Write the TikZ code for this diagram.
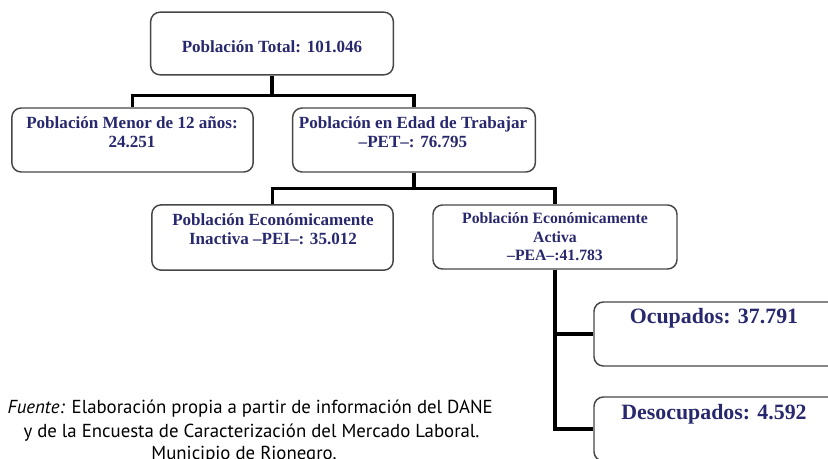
\documentclass[tikz,border=0pt]{standalone}
\usepackage{fontspec}
\setmainfont{Liberation Serif}
\newfontfamily\capfont{PT Sans}
\usepackage{tikz}
\definecolor{navy}{RGB}{40,40,110}
\definecolor{edge}{RGB}{70,70,70}

\begin{document}
\begin{tikzpicture}[x=0.75pt,y=-0.75pt]
\tikzstyle{box}=[draw=edge,line width=1.1pt,rounded corners=7pt,shape=rectangle,inner sep=0pt]
\tikzstyle{txt}=[text=navy,font=\bfseries\fontsize{12.8}{14.3}\selectfont,align=center,inner sep=0pt]
\tikzstyle{srctxt}=[font=\capfont\fontsize{14.1}{17}\selectfont,inner sep=0pt]
\tikzstyle{conn}=[line width=2.6pt,black]
\useasboundingbox (0,0) rectangle (828,458);
\clip (0,0) rectangle (828,458);
% boxes
\node[box,minimum width=182pt,minimum height=47pt] (tot) at (272,43.5) {};
\node[box,minimum width=181pt,minimum height=48pt] (men) at (132.5,140) {};
\node[box,minimum width=182pt,minimum height=48pt] (pet) at (414,140) {};
\node[box,minimum width=181pt,minimum height=49pt] (pei) at (272.5,237.5) {};
\node[box,minimum width=183pt,minimum height=48pt] (pea) at (555,237) {};
\node[box,minimum width=183pt,minimum height=48pt] (ocu) at (716,334) {};
\node[box,minimum width=183pt,minimum height=48pt] (des) at (716,429) {};
% texts
\node[txt] (ttot) at (272,47) {Población Total: 101.046};
\node[txt] (tmen) at (132,132.5) {Población Menor de 12 años:\\24.251};
\node[txt] (tpet) at (413,132.5) {Población en Edad de Trabajar\\--PET--: 76.795};
\node[txt] (tpei) at (273,229) {Población Económicamente\\Inactiva --PEI--: 35.012};
\node[txt,font=\bfseries\fontsize{11.8}{13.9}\selectfont] (tpea) at (555,237) {Población Económicamente\\Activa\\--PEA--:41.783};
\node[txt,font=\bfseries\fontsize{16.4}{18}\selectfont] (tocu) at (714,318) {Ocupados: 37.791};
\node[txt,font=\bfseries\fontsize{16.4}{18}\selectfont] (tdes) at (714,414) {Desocupados: 4.592};
% connectors
\draw[conn] (tot.south) -- ++(0,20) -| (men.north);
\draw[conn] (tot.south) -- ++(0,20) -| (pet.north);
\draw[conn] (pet.south) -- ++(0,16) -| (pei.north);
\draw[conn] (pet.south) -- ++(0,16) -| (pea.north);
\draw[conn] (pea.south) |- (ocu.west);
\draw[conn] (pea.south) |- (des.west);
% source
\node[srctxt,anchor=base east] (cap1) at (493,413) {\textit{Fuente:} Elaboración propia a partir de información del DANE};
\node[srctxt,anchor=base] (cap2) at (251.5,437) {y de la Encuesta de Caracterización del Mercado Laboral.};
\node[srctxt,anchor=base] (cap3) at (244,459) {Municipio de Rionegro.};
\end{tikzpicture}
\end{document}
